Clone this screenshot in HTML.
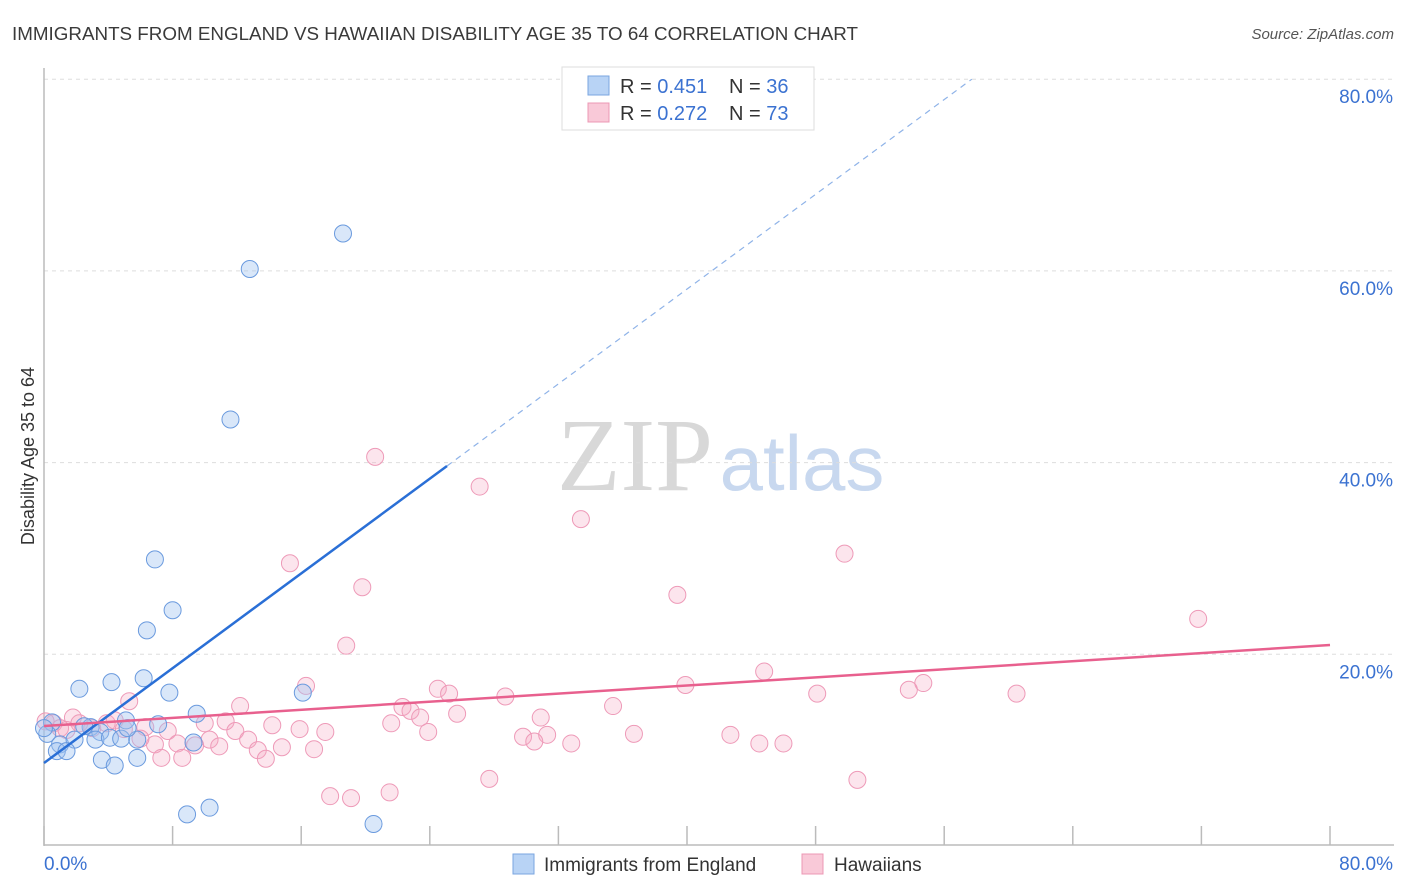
<!DOCTYPE html>
<html><head><meta charset="utf-8"><style>
body{margin:0;background:#fff;font-family:"Liberation Sans",sans-serif;}
svg{display:block}
</style></head><body>
<svg id="chart" width="1406" height="892" xmlns="http://www.w3.org/2000/svg">
<text x="12" y="40" font-size="18" fill="#3a3a3a" textLength="846" lengthAdjust="spacingAndGlyphs">IMMIGRANTS FROM ENGLAND VS HAWAIIAN DISABILITY AGE 35 TO 64 CORRELATION CHART</text>
<text x="1394" y="39" font-size="15" fill="#555" font-style="italic" text-anchor="end">Source: ZipAtlas.com</text>
<text x="34" y="456" font-size="18" fill="#333" text-anchor="middle" transform="rotate(-90 34 456)">Disability Age 35 to 64</text>
<g><text x="635" y="490" font-size="104" font-family="Liberation Serif,serif" fill="#d8d8d8" text-anchor="middle">ZIP</text><text x="802" y="490" font-size="78" fill="#c8d8ef" text-anchor="middle">atlas</text></g>
<g id="grid"></g><g id="axes"></g><g id="pts"></g><g id="lines"></g>
<g>
<rect x="562" y="67" width="252" height="63" fill="#fff" stroke="#ddd"/>
<rect x="588" y="76" width="21" height="19" fill="#b8d3f5" stroke="#7aa6e0"/>
<rect x="588" y="103" width="21" height="19" fill="#f9c9d8" stroke="#ec98b4"/>
<text x="620" y="93" font-size="20" fill="#333">R = <tspan fill="#3b72d1">0.451</tspan></text>
<text x="729" y="93" font-size="20" fill="#333">N = <tspan fill="#3b72d1">36</tspan></text>
<text x="620" y="120" font-size="20" fill="#333">R = <tspan fill="#3b72d1">0.272</tspan></text>
<text x="729" y="120" font-size="20" fill="#333">N = <tspan fill="#3b72d1">73</tspan></text>
</g>
<g>
<rect x="513" y="854" width="21" height="20" fill="#b8d3f5" stroke="#7aa6e0"/>
<text x="544" y="871" font-size="19" fill="#333">Immigrants from England</text>
<rect x="802" y="854" width="21" height="20" fill="#f9c9d8" stroke="#ec98b4"/>
<text x="834" y="871" font-size="19" fill="#333">Hawaiians</text>
</g>
<text x="44" y="870" font-size="19" fill="#3b72d1">0.0%</text>
<text x="1393" y="870" font-size="19" fill="#3b72d1" text-anchor="end">80.0%</text>
</svg>
<script>
const yTicks=[20,40,60,80];
const xTicks=[0,8,16,24,32,40,48,56,64,72,80];
const blueX=[18.6,12.8,11.6,6.9,8.0,6.4,6.2,4.2,2.2,7.8,16.1,9.5,5.1,7.1,0.5,0.2,2.9,3.5,1.0,1.9,3.2,4.1,4.8,5.8,9.3,0.8,1.4,3.6,4.4,5.8,8.9,10.3,20.5,0.0,2.5,5.2];
const blueY=[63.9,60.2,44.5,29.9,24.6,22.5,17.5,17.1,16.4,16.0,16.0,13.8,13.1,12.7,12.9,11.7,12.4,11.9,10.6,11.1,11.1,11.3,11.2,11.1,10.8,9.9,9.9,9.0,8.4,9.2,3.3,4.0,2.3,12.3,12.5,12.3];
const pinkX=[20.6,27.1,33.4,49.8,15.3,19.8,39.4,71.8,18.8,44.8,16.3,39.9,54.7,53.8,24.5,25.2,28.7,48.1,60.5,12.2,35.4,22.3,22.8,23.4,25.7,30.9,5.3,1.8,0.6,1.0,2.2,3.0,3.9,4.4,6.3,7.7,10.0,11.3,11.9,14.2,15.9,17.5,21.6,23.9,29.8,31.3,36.7,42.7,44.5,46.0,32.8,30.5,6.9,8.3,8.6,10.3,10.9,12.7,13.3,13.8,14.8,16.8,7.3,6.0,27.7,50.6,17.8,19.1,21.5,0.1,9.4,4.97,1.4];
const pinkY=[40.6,37.5,34.1,30.5,29.5,27.0,26.2,23.7,20.9,18.2,16.7,16.8,17.0,16.3,16.4,15.9,15.6,15.9,15.9,14.6,14.6,14.5,14.1,13.4,13.8,13.4,15.1,13.4,12.8,12.3,12.8,12.3,12.8,13.1,12.4,12.0,12.8,13.0,12.0,12.6,12.2,11.9,12.8,11.9,11.4,11.6,11.7,11.6,10.7,10.7,10.7,10.9,10.6,10.7,9.2,11.1,10.4,11.1,10.0,9.1,10.3,10.1,9.2,11.2,7.0,6.9,5.2,5.0,5.6,13.0,10.5,12.2,12.1];
const blueTrend=[8.66,1.236,25.07];
const pinkTrend=[12.52,20.97];
const X=v=>44+v*16.075, Y=v=>846-v*9.585;
const NS="http://www.w3.org/2000/svg";
function mk(parent,tag,attrs){const e=document.createElementNS(NS,tag);for(const k in attrs)e.setAttribute(k,attrs[k]);document.getElementById(parent).appendChild(e);return e;}
yTicks.forEach(t=>{
 const l=mk('grid','line',{x1:44,x2:1394,y1:Y(t),y2:Y(t),stroke:'#ddd','stroke-dasharray':'4,4'});
 
 
 const tx=mk('grid','text',{x:1393,y:Y(t)+24,'font-size':19,fill:'#3b72d1','text-anchor':'end'});
 tx.textContent=t.toFixed(1)+'%';
 
 
});
const ax=mk('axes','line',{x1:44,x2:44,y1:68,y2:846,stroke:'#bbb','stroke-width':1.5});


const bx=mk('axes','line',{x1:44,x2:1394,y1:845,y2:845,stroke:'#bbb','stroke-width':1.5});


xTicks.forEach(t=>{const l=mk('axes','line',{x1:X(t),x2:X(t),y1:826,y2:845,stroke:'#bbb','stroke-width':1.5});
 
 });
pinkX.forEach((x,i)=>{const c=mk('pts','circle',{cx:X(x),cy:Y(pinkY[i]),r:8.5,fill:'rgba(246,170,195,0.3)',stroke:'#ee9ab8','stroke-width':1});
 
 });
blueX.forEach((x,i)=>{const c=mk('pts','circle',{cx:X(x),cy:Y(blueY[i]),r:8.5,fill:'rgba(160,195,240,0.4)',stroke:'#6a9ade','stroke-width':1});
 
 });
const [b0,bs,bend]=blueTrend;
const bl=mk('lines','line',{x1:X(0),y1:Y(b0),x2:X(bend),y2:Y(b0+bs*bend),stroke:'#2a6fd6','stroke-width':2.5});


const xe=(80-b0)/bs*1.0;
const bd=mk('lines','line',{x1:X(bend),y1:Y(b0+bs*bend),x2:X(xe),y2:Y(b0+bs*xe),stroke:'#8fb3e8','stroke-width':1.2,'stroke-dasharray':'6,5'});


const pl=mk('lines','line',{x1:X(0),y1:Y(pinkTrend[0]),x2:X(80),y2:Y(pinkTrend[1]),stroke:'#e8608e','stroke-width':2.5});


</script>
</body></html>
